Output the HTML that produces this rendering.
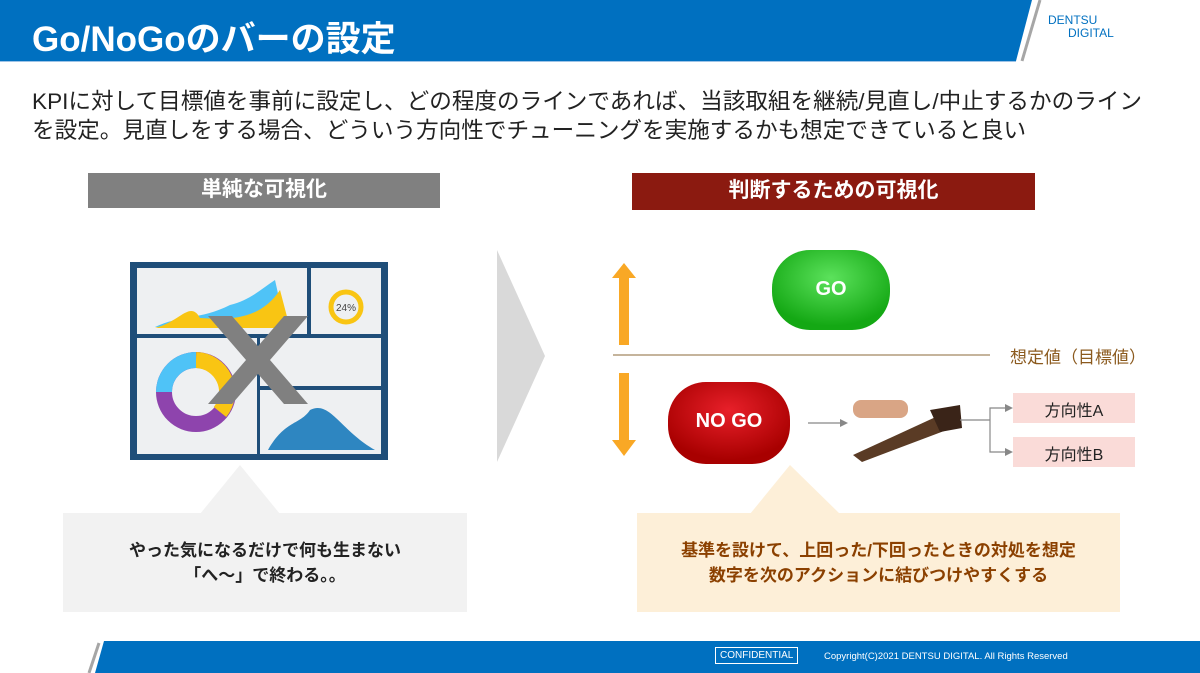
<!DOCTYPE html>
<html><head><meta charset="utf-8"><style>
body{margin:0;width:1200px;height:673px;position:relative;overflow:hidden;background:#fff;font-family:"Liberation Sans","Noto Sans CJK JP",sans-serif}
.a{position:absolute}
</style></head><body>
<svg class="a" style="left:0;top:0" width="1200" height="673">
<polygon points="0,0 1032,0 1016,61 0,61" fill="#0070C0"/>
<line x1="1040" y1="0" x2="1022" y2="61" stroke="#A6A6A6" stroke-width="3"/>
<line x1="0" y1="61.5" x2="1016" y2="61.5" stroke="#9DC3E6" stroke-width="1"/>
<polygon points="104,641 1200,641 1200,673 95,673" fill="#0070C0"/>
<line x1="99" y1="643" x2="89" y2="673" stroke="#A6A6A6" stroke-width="3"/>
<polygon points="497,250 545,356 497,462" fill="#D9D9D9"/>
<polygon points="200,514 240,465 280,514" fill="#F2F2F2"/>
<rect x="63" y="513" width="404" height="99" fill="#F2F2F2"/>
<polygon points="750,514 790,465 840,514" fill="#FDEFD8"/>
<rect x="637" y="513" width="483" height="99" fill="#FDEFD8"/>
<polygon points="624,263 636,278 629,278 629,345 619,345 619,278 612,278" fill="#F9A825"/>
<polygon points="619,373 629,373 629,440 636,440 624,456 612,440 619,440" fill="#F9A825"/>
<line x1="613" y1="355" x2="990" y2="355" stroke="#8B6A3A" stroke-width="1"/>
<defs>
<radialGradient id="g" cx="50%" cy="35%" r="60%"><stop offset="0" stop-color="#5CE25C"/><stop offset="1" stop-color="#14A814"/></radialGradient>
<radialGradient id="r" cx="50%" cy="35%" r="60%"><stop offset="0" stop-color="#E8202A"/><stop offset="1" stop-color="#A80000"/></radialGradient>
</defs>
<rect x="772" y="250" width="118" height="80" rx="38" fill="url(#g)"/>
<rect x="668" y="382" width="122" height="82" rx="38" fill="url(#r)"/>
<line x1="808" y1="423" x2="845" y2="423" stroke="#888" stroke-width="1.2"/>
<polygon points="848,423 840,419 840,427" fill="#888"/>
<polygon points="853,455 940,415 960,425 862,462" fill="#5A3B25"/>
<polygon points="930,410 960,405 962,428 940,432" fill="#3A2418"/>
<rect x="853" y="400" width="55" height="18" rx="8" fill="#D9A585"/>
<line x1="960" y1="420" x2="990" y2="420" stroke="#888" stroke-width="1.2"/>
<polyline points="990,420 990,408 1010,408" fill="none" stroke="#888" stroke-width="1.2"/>
<polyline points="990,420 990,452 1010,452" fill="none" stroke="#888" stroke-width="1.2"/>
<polygon points="1013,408 1005,404 1005,412" fill="#888"/>
<polygon points="1013,452 1005,448 1005,456" fill="#888"/>
<rect x="1013" y="393" width="122" height="30" fill="#FADBD8"/>
<rect x="1013" y="437" width="122" height="30" fill="#FADBD8"/>
<rect x="130" y="262" width="258" height="198" fill="#1F4E79"/>
<rect x="137" y="268" width="170" height="66" fill="#EEF0F2"/>
<rect x="311" y="268" width="70" height="66" fill="#EEF0F2"/>
<rect x="137" y="338" width="120" height="116" fill="#EEF0F2"/>
<rect x="260" y="338" width="121" height="48" fill="#EEF0F2"/>
<rect x="260" y="390" width="121" height="64" fill="#EEF0F2"/>
<path d="M155,327 C180,315 200,320 230,305 C250,300 260,290 275,280 L285,325 Z" fill="#4FC3F7"/>
<path d="M155,328 C180,322 190,300 200,318 C230,320 260,320 280,290 L290,328 Z" fill="#F9C513"/>
<circle cx="346" cy="307" r="15" fill="none" stroke="#F9C513" stroke-width="5"/>
<text x="346" y="311" font-size="10" text-anchor="middle" fill="#444">24%</text>
<circle cx="196" cy="392" r="32" fill="none" stroke="#8E44AD" stroke-width="16"/>
<path d="M196,360 A32,32 0 0 1 220,412" fill="none" stroke="#F9C513" stroke-width="16"/>
<path d="M164,392 A32,32 0 0 1 196,360" fill="none" stroke="#4FC3F7" stroke-width="16"/>
<path d="M268,450 C285,420 300,425 310,410 C330,400 340,430 375,450 Z" fill="#2E86C1"/>
<g fill="#808080"><polygon points="208,316 232,316 308,404 284,404"/><polygon points="308,316 284,316 208,404 232,404"/></g>
</svg>
<div class="a" style="left:32px;top:11px;color:#fff;font-size:35px;font-weight:bold">Go/NoGoのバーの設定</div>
<div class="a" style="left:1048px;top:14px;color:#0070C0;font-size:12px;line-height:13px">DENTSU<br>&nbsp;&nbsp;&nbsp;&nbsp;&nbsp;&nbsp;DIGITAL</div>
<div class="a" style="left:32px;top:87px;font-size:22.6px;line-height:29px;color:#222;white-space:nowrap">KPIに対して目標値を事前に設定し、どの程度のラインであれば、当該取組を継続/見直し/中止するかのライン<br>を設定。見直しをする場合、どういう方向性でチューニングを実施するかも想定できていると良い</div>
<div class="a" style="left:88px;top:173px;width:352px;height:35px;background:#808080;color:#fff;font-weight:bold;font-size:21px;text-align:center;line-height:33px">単純な可視化</div>
<div class="a" style="left:632px;top:173px;width:403px;height:37px;background:#8B1A10;color:#fff;font-weight:bold;font-size:21px;text-align:center;line-height:35px">判断するための可視化</div>
<div class="a" style="left:772px;top:278px;width:118px;text-align:center;color:#fff;font-weight:bold;font-size:20px">GO</div>
<div class="a" style="left:668px;top:410px;width:122px;text-align:center;color:#fff;font-weight:bold;font-size:20px">NO GO</div>
<div class="a" style="left:1010px;top:343px;color:#8B5A1E;font-size:17px">想定値（目標値）</div>
<div class="a" style="left:1013px;top:397px;width:122px;text-align:center;font-size:16px;color:#222">方向性A</div>
<div class="a" style="left:1013px;top:441px;width:122px;text-align:center;font-size:16px;color:#222">方向性B</div>
<div class="a" style="left:63px;top:538px;width:404px;text-align:center;font-weight:bold;font-size:17px;line-height:25px;color:#222">やった気になるだけで何も生まない<br>「へ～」で終わる。。</div>
<div class="a" style="left:637px;top:538px;width:483px;text-align:center;font-weight:bold;font-size:17px;line-height:25px;color:#8B4000">基準を設けて、上回った/下回ったときの対処を想定<br>数字を次のアクションに結びつけやすくする</div>
<div class="a" style="left:715px;top:647px;border:1px solid #fff;color:#fff;font-size:10px;padding:2px 4px">CONFIDENTIAL</div>
<div class="a" style="left:824px;top:651px;color:#fff;font-size:9.5px">Copyright(C)2021 DENTSU DIGITAL. All Rights Reserved</div>
</body></html>
